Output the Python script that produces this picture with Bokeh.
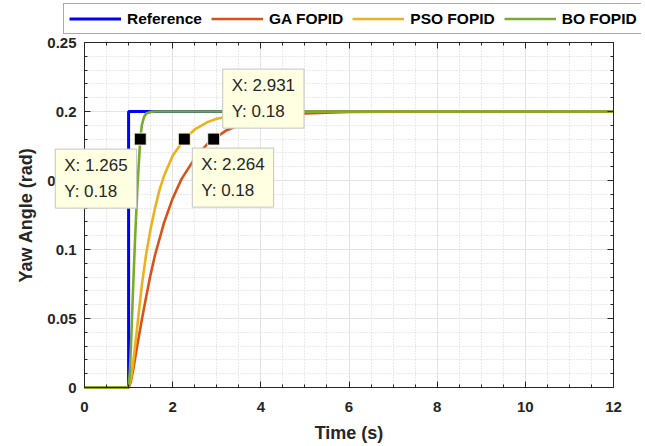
import numpy as np
from bokeh.plotting import figure
from bokeh.models import Legend, LegendItem, Label, FixedTicker, LinearAxis, Range1d
from bokeh.embed import file_html
from bokeh.resources import INLINE

# ---- data ----
ref_t = [0, 1.0, 1.0, 12.0]
ref_y = [0, 0, 0.2, 0.2]

ga_t = [0, 1.0, 1.05, 1.1, 1.2, 1.3, 1.4, 1.5, 1.6, 1.8, 2.0, 2.2, 2.5, 2.8, 2.931,
        3.2, 3.5, 4.0, 4.5, 5.0, 5.5, 6.0, 7.0, 8.0, 12.0]
ga_y = [0, 0, 0.004, 0.012, 0.031, 0.049, 0.066, 0.082, 0.096, 0.119, 0.137, 0.151,
        0.166, 0.177, 0.180, 0.186, 0.190, 0.1945, 0.197, 0.1985, 0.1992, 0.1996,
        0.1999, 0.2, 0.2]

pso_t = [0, 1.0, 1.05, 1.1, 1.2, 1.3, 1.4, 1.5, 1.6, 1.7, 1.8, 2.0, 2.264, 2.5,
         2.8, 3.0, 3.5, 4.0, 5.0, 12.0]
pso_y = [0, 0, 0.006, 0.017, 0.045, 0.074, 0.097, 0.115, 0.130, 0.143, 0.153, 0.168,
         0.180, 0.187, 0.1925, 0.1948, 0.198, 0.1992, 0.2, 0.2]

bo_t = [0, 1.0, 1.03, 1.06, 1.1, 1.15, 1.2, 1.265, 1.3, 1.35, 1.4, 1.5, 1.6, 1.8, 12.0]
bo_y = [0, 0, 0.012, 0.035, 0.070, 0.110, 0.145, 0.180, 0.190, 0.196, 0.1985,
        0.1997, 0.2, 0.2, 0.2]

tip_x = [1.265, 2.264, 2.931]
tip_y = [0.18, 0.18, 0.18]

series_names = ["Reference", "GA FOPID", "PSO FOPID", "BO FOPID"]

x_ticks = [0, 2, 4, 6, 8, 10, 12]
x_tick_labels = ["0", "2", "4", "6", "8", "10", "12"]
y_ticks = [0, 0.05, 0.1, 0.15, 0.2, 0.25]
y_tick_labels = ["0", "0.05", "0.1", "0.15", "0.2", "0.25"]

X_LIM = (0, 12)
Y_LIM = (0, 0.25)

# ---- layout: the plot frame covers the whole canvas; the axes are placed at
# fixed data locations so the legend and the datatips that overhang the axes
# box are not clipped ----
FONT = "Liberation Sans"
AX = "#262626"
W, H = 641, 446
BOX_L, BOX_R, BOX_T, BOX_B = 84, 613, 42, 387      # axes box in canvas pixels
px_x = (BOX_R - BOX_L) / (X_LIM[1] - X_LIM[0])
px_y = (BOX_B - BOX_T) / (Y_LIM[1] - Y_LIM[0])
x_range = Range1d(X_LIM[0] - BOX_L / px_x, X_LIM[1] + (W - BOX_R) / px_x)
y_range = Range1d(Y_LIM[0] - (H - BOX_B) / px_y, Y_LIM[1] + BOX_T / px_y)

p = figure(width=W, height=H, x_range=x_range, y_range=y_range,
           output_backend="svg", toolbar_location=None,
           min_border_left=0, min_border_right=0, min_border_top=0,
           min_border_bottom=0)
p.outline_line_color = None
p.background_fill_color = "white"
p.border_fill_color = "white"

xt = FixedTicker(ticks=x_ticks, minor_ticks=list(np.arange(0, 12.001, 0.5)))
yt = FixedTicker(ticks=y_ticks, minor_ticks=list(np.round(np.arange(0, 0.2501, 0.01), 3)))

def style_axis(ax, show_labels=True):
    ax.axis_line_color = AX
    ax.major_tick_line_color = AX
    ax.minor_tick_line_color = AX
    ax.major_tick_in = 6
    ax.major_tick_out = 0
    ax.minor_tick_in = 3
    ax.minor_tick_out = 0
    ax.major_label_text_font = FONT
    ax.major_label_text_font_style = "bold"
    ax.major_label_text_color = AX
    ax.major_label_text_font_size = "15px" if show_labels else "0px"
    ax.axis_label_text_font = FONT
    ax.axis_label_text_font_style = "bold"
    ax.axis_label_text_font_size = "18px"
    ax.axis_label_text_color = AX

xa = p.xaxis[0]
ya = p.yaxis[0]
xa.ticker = xt
ya.ticker = yt
xa.bounds = X_LIM
ya.bounds = Y_LIM
xa.fixed_location = Y_LIM[0]
ya.fixed_location = X_LIM[0]
xa.major_label_overrides = dict(zip(x_ticks, x_tick_labels))
ya.major_label_overrides = dict(zip(y_ticks, y_tick_labels))
xa.axis_label = "Time (s)"
ya.axis_label = "Yaw Angle (rad)"
style_axis(xa)
style_axis(ya)
xa.major_label_standoff = 14
ya.major_label_standoff = 8
xa.axis_label_standoff = 8
ya.axis_label_standoff = 8

right = LinearAxis(ticker=yt, bounds=Y_LIM, fixed_location=X_LIM[1], major_label_standoff=0)
style_axis(right, False)
p.add_layout(right, "right")
top = LinearAxis(ticker=xt, bounds=X_LIM, fixed_location=Y_LIM[1], major_label_standoff=0)
style_axis(top, False)
p.add_layout(top, "above")

p.xgrid.ticker = xt
p.ygrid.ticker = yt
p.xgrid.cross_bounds = Y_LIM
p.ygrid.cross_bounds = X_LIM
p.xgrid.bounds = X_LIM
p.ygrid.bounds = Y_LIM
for g in (p.xgrid, p.ygrid):
    g.grid_line_color = "#e3e3e3"
    g.grid_line_width = 1
    g.minor_grid_line_color = "#d4d4d4"
    g.minor_grid_line_dash = "1 2"

colors = ["#0000ff", "#D95319", "#EDB120", "#77AC30"]
r_ref = p.line(ref_t, ref_y, line_color=colors[0], line_width=3)
r_ga = p.line(ga_t, ga_y, line_color=colors[1], line_width=2.6)
r_pso = p.line(pso_t, pso_y, line_color=colors[2], line_width=2.6)
r_bo = p.line(bo_t, bo_y, line_color=colors[3], line_width=2.6)

p.scatter(tip_x, tip_y, marker="square", size=12, fill_color="black",
          line_color="#f4f4d0", line_width=1)

tip_offsets = [(-85, -10), (8, -9), (9, 70)]
for tx, ty, (dx, dy) in zip(tip_x, tip_y, tip_offsets):
    p.add_layout(Label(x=tx, y=ty, x_offset=dx, y_offset=dy,
                       text=f"X: {tx:.3f}\nY: {ty:.2f}",
                       text_align="left", text_baseline="top",
                       text_font=FONT, text_font_size="17px", text_color=AX,
                       text_line_height=1.37,
                       background_fill_color="#ffffe1",
                       border_line_color="#c4c4c4", border_line_width=1,
                       padding=(9, 7)))

legend = Legend(items=[LegendItem(label=n, renderers=[r]) for n, r in
                       zip(series_names, [r_ref, r_ga, r_pso, r_bo])],
                orientation="horizontal", location=(63, H - 34),
                label_text_font=FONT, label_text_font_style="bold",
                label_text_font_size="15.5px", label_text_color="black",
                glyph_width=52, glyph_height=19, label_height=19,
                label_standoff=6, spacing=9, padding=5, margin=0,
                border_line_color="#555555", border_line_width=1,
                background_fill_color="white", background_fill_alpha=1)
p.add_layout(legend, "center")

open("out.html", "w").write(file_html(p, INLINE))
